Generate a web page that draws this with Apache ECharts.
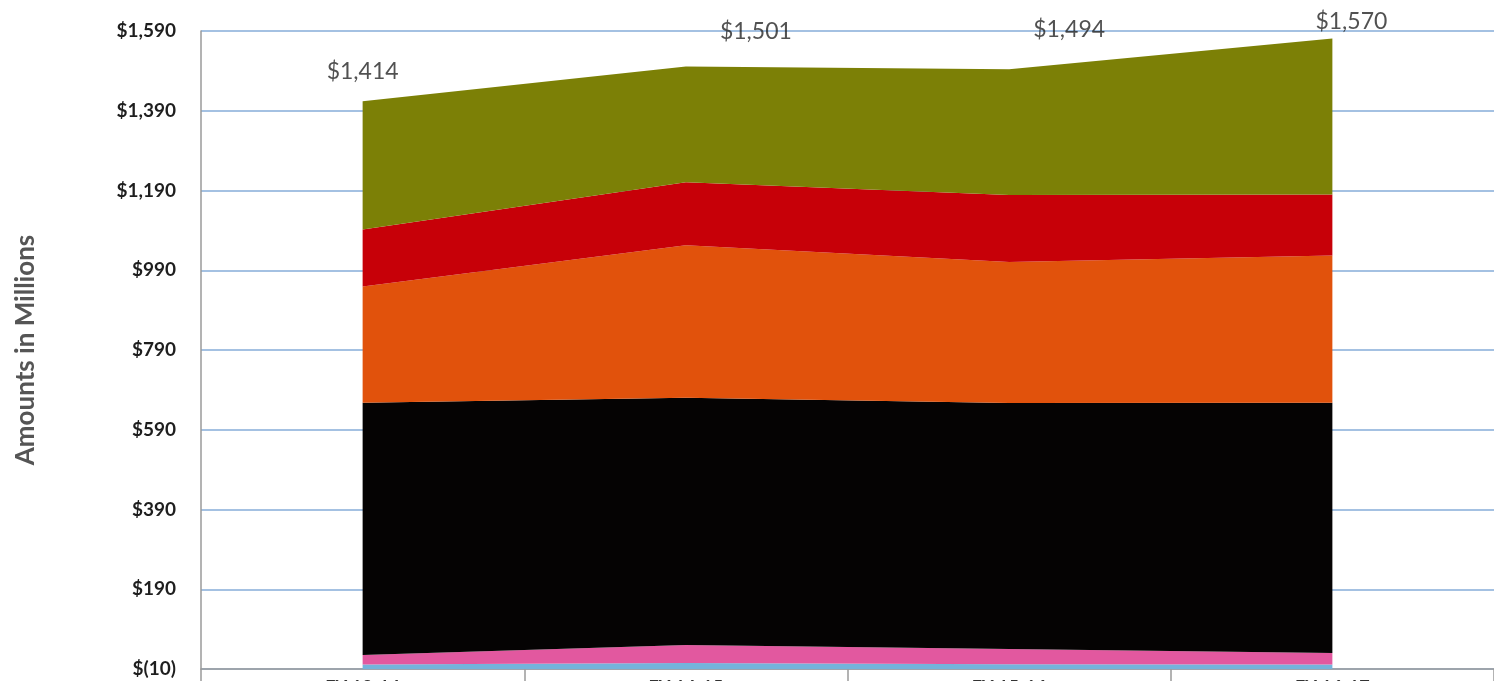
<!DOCTYPE html>
<html>
<head>
<meta charset="utf-8">
<script src="https://cdn.jsdelivr.net/npm/echarts@6/dist/echarts.min.js"></script>
<style>
  html, body { margin: 0; padding: 0; background: #ffffff; }
  #chart { width: 1494px; height: 681px; }
</style>
</head>
<body>
<div id="chart"></div>
<script>
// ---- data ----
const categories = ['FY 13-14', 'FY 14-15', 'FY 15-16', 'FY 16-17'];
const lightBlue  = [1, 5, 2, 1];
const pink       = [24, 45, 38, 29];
const black      = [633, 620, 617, 628];
const orange     = [291, 383, 354, 369];
const red        = [143, 158, 168, 153];
const olive      = [322, 290, 315, 391];
const totals     = [1414, 1501, 1494, 1570];
const yMin = -10, yMax = 1590, yStep = 200;

// ---- layout / style ----
const labelOffsets = [[0, -13], [70, -18], [60, -23], [19, 0]];
const layers = [
  { name: 'Layer 1', data: lightBlue, color: '#74b3db', origin: 'start' },
  { name: 'Layer 2', data: pink,      color: '#e2589f' },
  { name: 'Layer 3', data: black,     color: '#050303' },
  { name: 'Layer 4', data: orange,    color: '#e1520c' },
  { name: 'Layer 5', data: red,       color: '#c70008' },
  { name: 'Layer 6', data: olive,     color: '#7c8006' }
];

function money(v) {
  if (v < 0) return '$(' + Math.abs(v).toLocaleString('en-US') + ')';
  return '$' + v.toLocaleString('en-US');
}

const series = layers.map(l => ({
  name: l.name,
  type: 'line',
  stack: 'total',
  data: l.data,
  showSymbol: false,
  symbol: 'none',
  lineStyle: { width: 0 },
  areaStyle: { color: l.color, opacity: 1, origin: l.origin || 'auto' },
  itemStyle: { color: l.color },
  emphasis: { disabled: true },
  silent: true,
  z: 2
}));

series.push({
  name: 'Total',
  type: 'scatter',
  data: totals.map((v, i) => ({
    value: v,
    label: { offset: labelOffsets[i] }
  })),
  symbolSize: 1,
  itemStyle: { color: 'rgba(0,0,0,0)' },
  label: {
    show: true,
    position: 'top',
    distance: 5,
    color: '#252525',
    fontFamily: 'Lato, "Open Sans", sans-serif',
    fontSize: 23,
    formatter: p => money(p.value)
  },
  silent: true,
  z: 5
});

const chart = echarts.init(document.getElementById('chart'), null, { renderer: 'canvas' });
chart.setOption({
  backgroundColor: '#ffffff',
  animation: false,
  grid: { left: 201, right: 0, top: 31, bottom: 12, containLabel: false, outerBoundsMode: 'none' },
  xAxis: {
    type: 'category',
    data: categories,
    boundaryGap: true,
    axisLine: { show: true, onZero: false, lineStyle: { color: '#9a9a9a', width: 1.5 } },
    axisTick: { show: true, inside: false, length: 13, alignWithLabel: false,
                lineStyle: { color: '#9a9a9a', width: 1.5 } },
    axisLabel: { show: true, margin: 10, color: '#333', fontSize: 18,
                 fontFamily: 'Lato, sans-serif', fontWeight: 'bold' },
    splitLine: { show: false }
  },
  yAxis: {
    type: 'value',
    min: yMin,
    max: yMax,
    interval: yStep,
    name: 'Amounts in Millions',
    nameLocation: 'middle',
    nameGap: 162,
    nameRotate: 90,
    nameTextStyle: { color: '#555555', fontSize: 26, fontWeight: 'bold',
                     fontFamily: 'Lato, "Open Sans", sans-serif' },
    axisLine: { show: true, lineStyle: { color: '#9a9a9a', width: 1.5 } },
    axisTick: { show: false },
    axisLabel: {
      margin: 25,
      color: '#1e1e1e',
      fontSize: 19,
      fontWeight: 'bold',
      fontFamily: 'Lato, "Open Sans", sans-serif',
      formatter: v => money(v)
    },
    splitLine: { show: true, lineStyle: { color: '#86acd9', width: 1.5 } }
  },
  series: series
});
</script>
</body>
</html>
